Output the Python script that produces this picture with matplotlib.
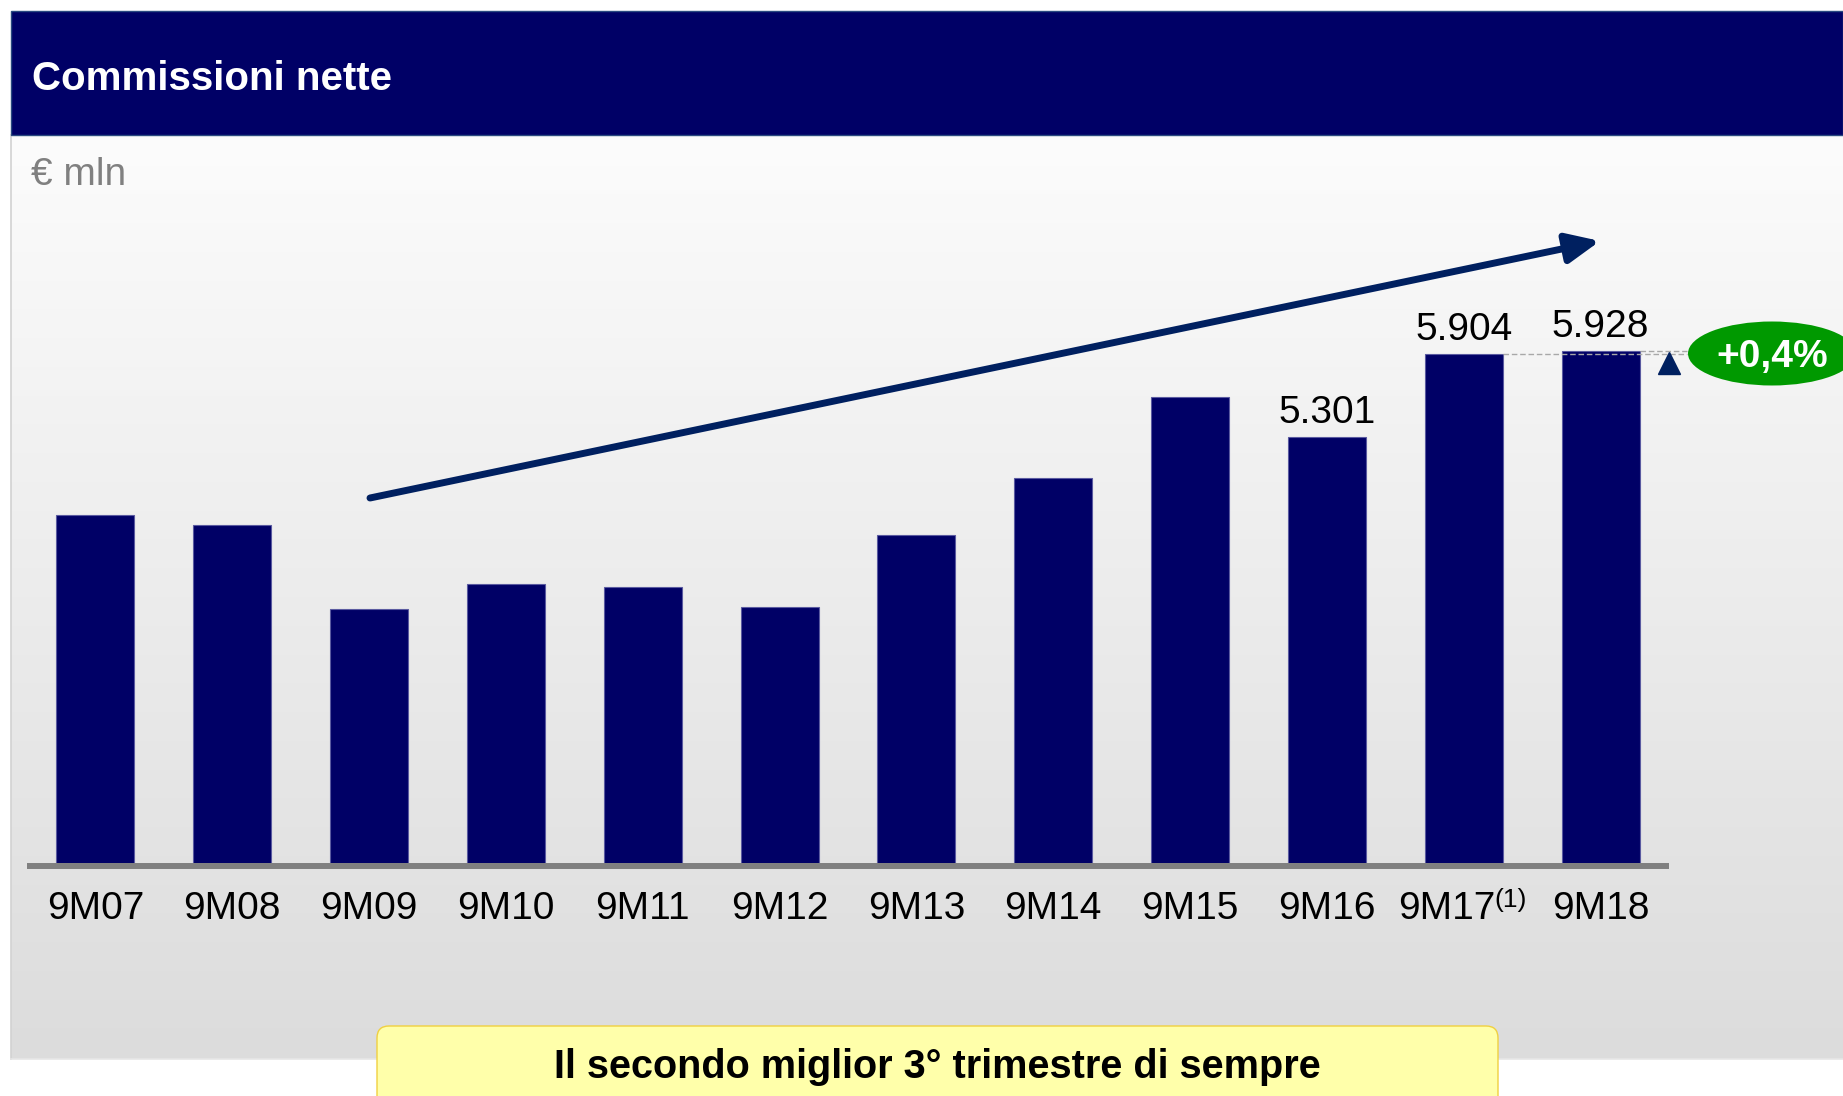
import matplotlib
matplotlib.use("Agg")
import matplotlib.pyplot as plt
import numpy as np
from matplotlib.patches import Rectangle, Ellipse, FancyBboxPatch, FancyArrowPatch
from matplotlib.lines import Line2D
import matplotlib.transforms as mtransforms

plt.rcParams['font.family'] = ['Liberation Sans', 'DejaVu Sans']

# ---- data ----
categories = ['9M07', '9M08', '9M09', '9M10', '9M11', '9M12',
              '9M13', '9M14', '9M15', '9M16', '9M17', '9M18']
footnote_idx = 10
footnote_mark = '(1)'
values = [4731, 4658, 4045, 4229, 4205, 4057, 4585, 5003, 5592, 5301, 5904, 5928]
labelled = [9, 10, 11]
title = 'Commissioni nette'
unit = '€ mln'
change_label = '+0,4%'
footer = 'Il secondo miglior 3° trimestre di sempre'

W, H = 1843, 1096
fig = plt.figure(figsize=(W / 100, H / 100), dpi=100)

# background pixel axes
bg = fig.add_axes([0, 0, 1, 1], zorder=0)
bg.axis('off')

def Y(py):
    return H - py

# gradient panel
grad = np.linspace(252, 220, 256) / 255.0
img = np.dstack([grad, grad, grad]).reshape(256, 1, 3)
bg.imshow(img, extent=[11, W, Y(1059), Y(135)], aspect='auto', zorder=0,
          interpolation='bilinear')
bg.add_line(Line2D([11, 11], [Y(135), Y(1059)], color='#D2D2D2', lw=1.2, zorder=1))
bg.add_line(Line2D([11, W], [Y(1059), Y(1059)], color='#E6E6E6', lw=1.2, zorder=1))
bg.set_xlim(0, W)
bg.set_ylim(0, H)

# title bar
bg.add_patch(Rectangle((11, Y(135)), W - 11, 124, facecolor='#000066',
                       edgecolor='#2A4A80', lw=1.0, zorder=2))
bg.text(32, Y(90), title, color='white', fontsize=29, fontweight='bold',
        ha='left', va='baseline', zorder=3)
bg.text(31, Y(185), unit, color='#808080', fontsize=28, ha='left',
        va='baseline', zorder=3)

# axis base line
bg.add_line(Line2D([27, 1669], [Y(866), Y(866)], color='#808080', lw=4.3,
                   solid_capstyle='butt', zorder=3))

# trend arrow
bg.add_patch(FancyArrowPatch((370, Y(498)), (1600, Y(241)),
                             arrowstyle='-|>,head_length=1.0,head_width=0.45',
                             mutation_scale=20, lw=5.0, color='#002060',
                             shrinkA=0, shrinkB=0, zorder=4))

# green badge
bg.add_patch(Ellipse((1772, Y(353.5)), 168, 64, facecolor='#009900',
                     edgecolor='none', zorder=4))
bg.text(1772, Y(367), change_label, color='white', fontsize=28,
        fontweight='bold', ha='center', va='baseline', zorder=5)

# footer box
bg.add_patch(FancyBboxPatch((377, Y(1115)), 1121, 1115 - 1026,
                            boxstyle='round,pad=0,rounding_size=12',
                            facecolor='#FFFFAA', edgecolor='#F0D040',
                            lw=1.0, zorder=4))
bg.text(937, Y(1078), footer, color='black', fontsize=28.5, fontweight='bold',
        ha='center', va='baseline', zorder=5)

# ---- chart axes ----
y_floor = 2190
ax = fig.add_axes([27 / W, (H - 863) / H, 1642 / W, 728 / H], zorder=2)
ax.patch.set_alpha(0)
x = np.arange(len(values))
ax.bar(x, values, width=0.57, color='#000066', edgecolor='#5A5AA0', lw=0.8,
       zorder=2)
ax.set_xlim(-0.5, len(values) - 0.5)
ax.set_ylim(y_floor, y_floor + 728 * 7.3)
for s in ax.spines.values():
    s.set_visible(False)
ax.set_yticks([])
ax.set_xticks(x)
ax.set_xticklabels(categories, fontsize=28)
ax.tick_params(axis='x', length=0, pad=40.3)
labels = ax.get_xticklabels()
for lbl in labels:
    lbl.set_va('baseline')
# shift the footnoted label left so label + mark are centred on the bar
lbl = labels[footnote_idx]
lbl.set_transform(lbl.get_transform() +
                  mtransforms.ScaledTranslation(-0.17, 0, fig.dpi_scale_trans))
fn_tr = mtransforms.offset_copy(
    mtransforms.blended_transform_factory(ax.transData, ax.transAxes),
    fig=fig, x=31, y=-44, units='dots')
ax.text(x[footnote_idx], 0, footnote_mark, transform=fn_tr, fontsize=19,
        ha='left', va='baseline', color='black', clip_on=False)

for i in labelled:
    ax.annotate(f'{values[i] / 1000:.3f}', (x[i], values[i]),
                xytext=(0, 10), textcoords='offset points', ha='center',
                va='baseline', fontsize=28, color='black')

# dashed reference lines and triangle
right_end = len(values) - 0.5 + 0.13
ax.hlines(values[10], x[10] + 0.285, right_end, colors='#A8A8A8',
          linestyles=(0, (4, 2)), lw=1.0, clip_on=False)
ax.hlines(values[11], x[11] + 0.285, right_end, colors='#A8A8A8',
          linestyles=(0, (4, 2)), lw=1.0, clip_on=False)
tri_tr = mtransforms.offset_copy(ax.transData, fig=fig, x=0, y=-8.5,
                                 units='points')
ax.plot([len(values) - 0.5], [values[11]], marker='^', markersize=16.5,
        color='#002060', transform=tri_tr, clip_on=False, zorder=3)

fig.savefig('out.png', dpi=100)
